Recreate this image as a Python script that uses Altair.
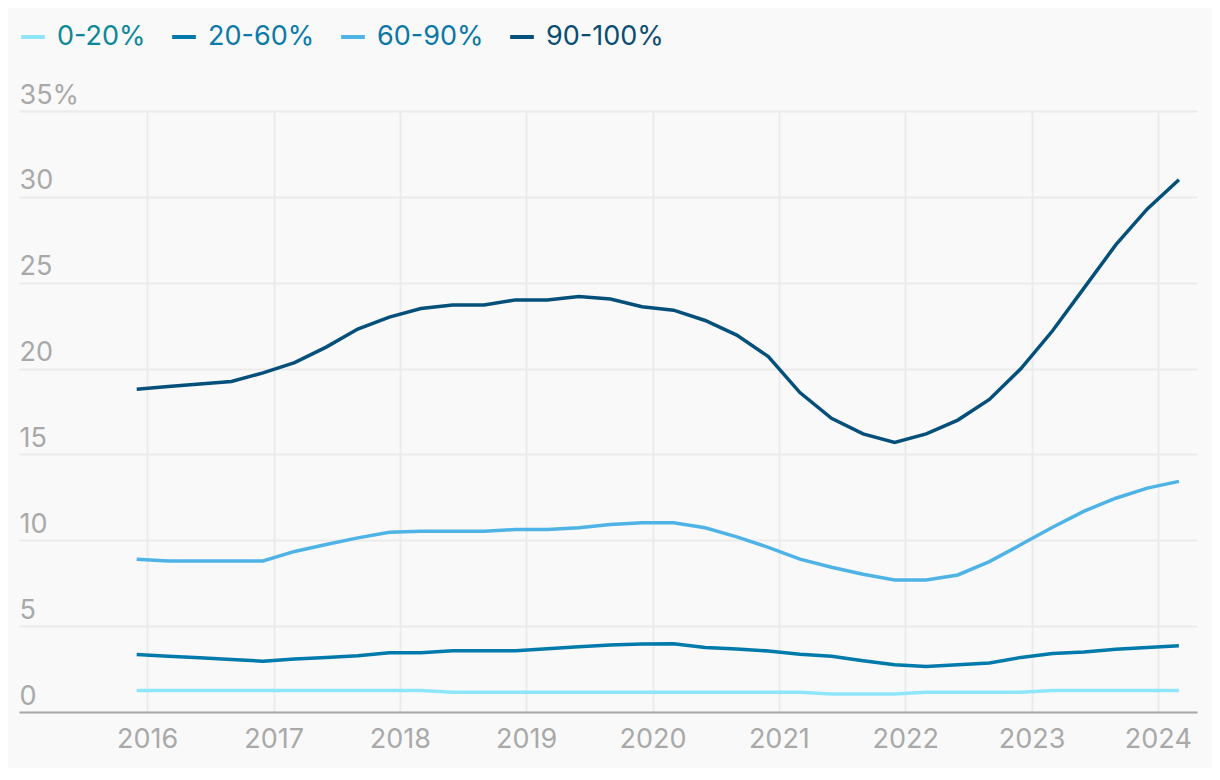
import altair as alt
import pandas as pd

# Quarter periods (YYYY-MM)
periods = ["2015-12",
           "2016-03", "2016-06", "2016-09", "2016-12",
           "2017-03", "2017-06", "2017-09", "2017-12",
           "2018-03", "2018-06", "2018-09", "2018-12",
           "2019-03", "2019-06", "2019-09", "2019-12",
           "2020-03", "2020-06", "2020-09", "2020-12",
           "2021-03", "2021-06", "2021-09", "2021-12",
           "2022-03", "2022-06", "2022-09", "2022-12",
           "2023-03", "2023-06", "2023-09", "2023-12",
           "2024-03"]

p0_20 = [1.25, 1.25, 1.25, 1.25, 1.25, 1.25, 1.25, 1.25, 1.25, 1.25,
         1.15, 1.15, 1.15, 1.15, 1.15, 1.15, 1.15, 1.15, 1.15, 1.15, 1.15, 1.15,
         1.05, 1.05, 1.05,
         1.15, 1.15, 1.15, 1.15,
         1.25, 1.25, 1.25, 1.25, 1.25]
p20_60 = [3.35, 3.25, 3.16, 3.06, 2.96, 3.08, 3.18, 3.27, 3.45, 3.45,
          3.57, 3.57, 3.57, 3.69, 3.80, 3.90, 3.96,
          3.98, 3.76, 3.67, 3.55, 3.37, 3.25, 2.98, 2.75, 2.65, 2.75,
          2.86, 3.18, 3.41, 3.49, 3.65, 3.76, 3.86]
p60_90 = [8.90, 8.80, 8.80, 8.80, 8.80, 9.35, 9.75, 10.14, 10.47, 10.53,
          10.53, 10.53, 10.63, 10.63, 10.73, 10.92, 11.02,
          11.02, 10.73, 10.20, 9.59, 8.90, 8.43, 8.02, 7.69, 7.69, 7.98,
          8.76, 9.75, 10.76, 11.70, 12.45, 13.04, 13.43]
p90_100 = [18.80, 18.95, 19.10, 19.25, 19.75, 20.35, 21.25, 22.30, 23.00, 23.50,
           23.70, 23.70, 24.00, 24.00, 24.20, 24.05, 23.60,
           23.40, 22.80, 21.95, 20.70, 18.60, 17.10, 16.20, 15.70, 16.20, 17.00,
           18.20, 20.00, 22.20, 24.70, 27.20, 29.30, 31.00]

series_names = ["0-20%", "20-60%", "60-90%", "90-100%"]
line_colors = ["#8fe6fb", "#007aab", "#4fb3e6", "#04507a"]
label_colors = ["#0c8797", "#0a7aa9", "#0a77a6", "#0a4c72"]
year_ticks = list(range(2016, 2025))
y_ticks = [0, 5, 10, 15, 20, 25, 30, 35]

series_values = [p0_20, p20_60, p60_90, p90_100]
rows = []
for name, vals in zip(series_names, series_values):
    for per, v in zip(periods, vals):
        y, m = per.split("-")
        rows.append({"t": int(y) + (int(m) - 1) / 12.0, "v": v, "group": name})
df = pd.DataFrame(rows)

label_color_expr = " : ".join(
    f"datum.label == '{n}' ? '{c}'" for n, c in zip(series_names, label_colors)
) + " : '#0a4c72'"

FONT = "Inter"
GRAY = "#a9a9a9"
FS = 27

chart = alt.Chart(df).mark_line(strokeWidth=3.5, interpolate="linear").encode(
    x=alt.X("t:Q",
            scale=alt.Scale(domain=[2014.985, 2024.31], nice=False, zero=False),
            axis=alt.Axis(values=year_ticks, format="d", title=None,
                          ticks=False, domain=True, domainColor="#aaaaaa", domainWidth=2,
                          grid=True, gridColor="#ebebeb", gridWidth=2,
                          labelPadding=14, labelColor=GRAY, labelFontSize=FS,
                          labelFont=FONT, labelFlush=False, labelOverlap=False)),
    y=alt.Y("v:Q",
            scale=alt.Scale(domain=[0, 35], nice=False),
            axis=alt.Axis(values=y_ticks, title=None, ticks=False, domain=False,
                          grid=True, gridColor="#ebebeb", gridWidth=2,
                          labelAlign="left", labelBaseline="alphabetic",
                          labelOffset=-8, labelPadding=0,
                          labelExpr="datum.value == 35 ? '35%' : datum.label",
                          labelColor=GRAY, labelFontSize=FS, labelFont=FONT,
                          labelFlush=False, labelOverlap=False)),
    color=alt.Color("group:N",
                    scale=alt.Scale(domain=series_names, range=line_colors),
                    legend=alt.Legend(orient="none", legendX=0, legendY=-88,
                                      direction="horizontal", title=None,
                                      symbolType="stroke", symbolStrokeWidth=4,
                                      symbolSize=560, labelFontSize=FS, labelFont=FONT,
                                      labelOffset=10, columnPadding=18,
                                      labelColor={"expr": label_color_expr})),
).properties(
    width=1178, height=601,
    background="#f9f9f9",
    padding={"left": 11, "top": 15, "right": 15, "bottom": 16},
).configure_view(stroke=None)

chart.save("out.html", embed_options={"renderer": "svg", "actions": False})
